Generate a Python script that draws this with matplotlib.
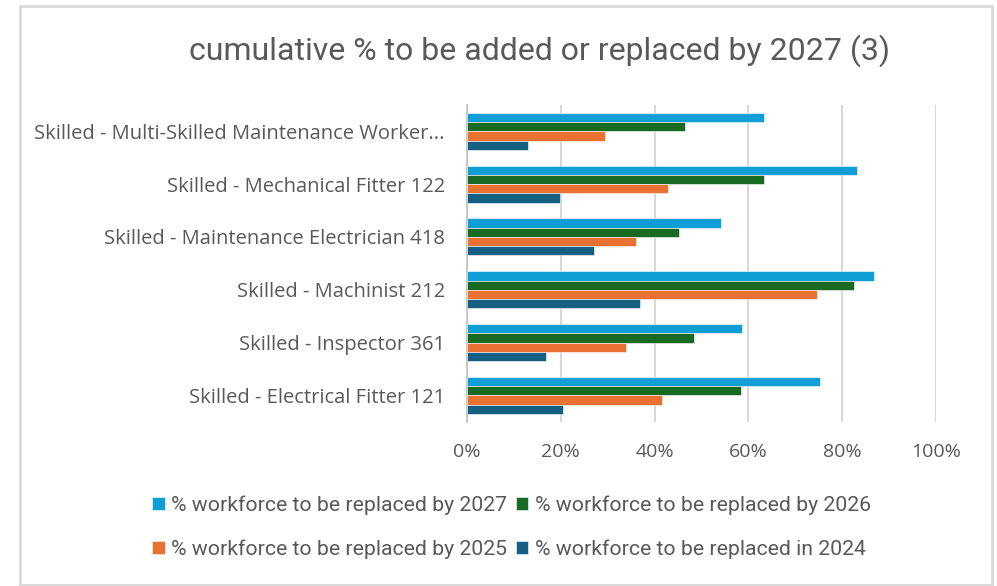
import numpy as np
from matplotlib import pyplot as plt
from matplotlib.patches import Rectangle

categories = ["Skilled - Electrical Fitter 121",
              "Skilled - Inspector 361",
              "Skilled - Machinist 212",
              "Skilled - Maintenance Electrician 418",
              "Skilled - Mechanical Fitter 122",
              "Skilled - Multi-Skilled Maintenance Worker..."]

by_2027 = [75.2, 58.7, 86.7, 54.1, 83.1, 63.4]
by_2026 = [58.5, 48.3, 82.6, 45.1, 63.4, 46.4]
by_2025 = [41.5, 33.8, 74.6, 36.0, 42.9, 29.4]
in_2024 = [20.4, 16.8, 36.8, 27.0, 19.9, 13.0]

series_names = ["% workforce to be replaced by 2027",
                "% workforce to be replaced by 2026",
                "% workforce to be replaced by 2025",
                "% workforce to be replaced in 2024"]
colors = ["#0f9ed5", "#196b24", "#e97132", "#156082"]

xticks = [0, 20, 40, 60, 80, 100]
xtick_labels = ["0%", "20%", "40%", "60%", "80%", "100%"]

grey = "#595959"
plt.rcParams['font.family'] = ["Open Sans", "DejaVu Sans"]

fig = plt.figure(figsize=(9.97, 5.86), dpi=100)
fig.patches.append(Rectangle((0.02, 0.002), 0.975, 0.988, transform=fig.transFigure,
                             fill=False, edgecolor="#d9d9d9", linewidth=2))
ax = fig.add_axes([0.4684, 0.2804, 0.4704, 0.5404])

y = np.arange(len(categories))
h = 0.175
all_series = [by_2027, by_2026, by_2025, in_2024]
offsets = [1.5 * h, 0.5 * h, -0.5 * h, -1.5 * h]
for vals, off, c, name in zip(all_series, offsets, colors, series_names):
    ax.barh(y + off, vals, height=h, color=c, edgecolor="white", linewidth=0.4,
            label=name, zorder=3)

ax.set_xlim(0, 100)
ax.set_ylim(-0.5, 5.5)
ax.set_xticks(xticks)
ax.set_xticklabels(xtick_labels, color=grey, fontsize=14)
ax.set_yticks(y)
ax.set_yticklabels(categories, color=grey, fontsize=14.5)
ax.tick_params(axis="both", length=0)
ax.tick_params(axis="y", pad=16)
ax.tick_params(axis="x", pad=15)
ax.grid(axis="x", color="#d9d9d9", linewidth=1.5, zorder=0)
for s in ["top", "right", "bottom"]:
    ax.spines[s].set_visible(False)
ax.spines["left"].set_color("#bfbfbf")
ax.spines["left"].set_linewidth(1.2)

fig.text(0.541, 0.913, "cumulative % to be added or replaced by 2027 (3)",
         ha="center", va="center", fontsize=23, color=grey, family="Roboto")

handles, labels = ax.get_legend_handles_labels()
order = [0, 2, 1, 3]
fig.legend([handles[i] for i in order], [labels[i] for i in order],
           loc="center", bbox_to_anchor=(0.513, 0.1), ncol=2,
           frameon=False, labelcolor=grey, handlelength=0.6,
           handleheight=0.6, handletextpad=0.3, columnspacing=0.4,
           labelspacing=1.15, prop={"family": "Roboto", "size": 15.3})

fig.savefig("out.png", dpi=100)
